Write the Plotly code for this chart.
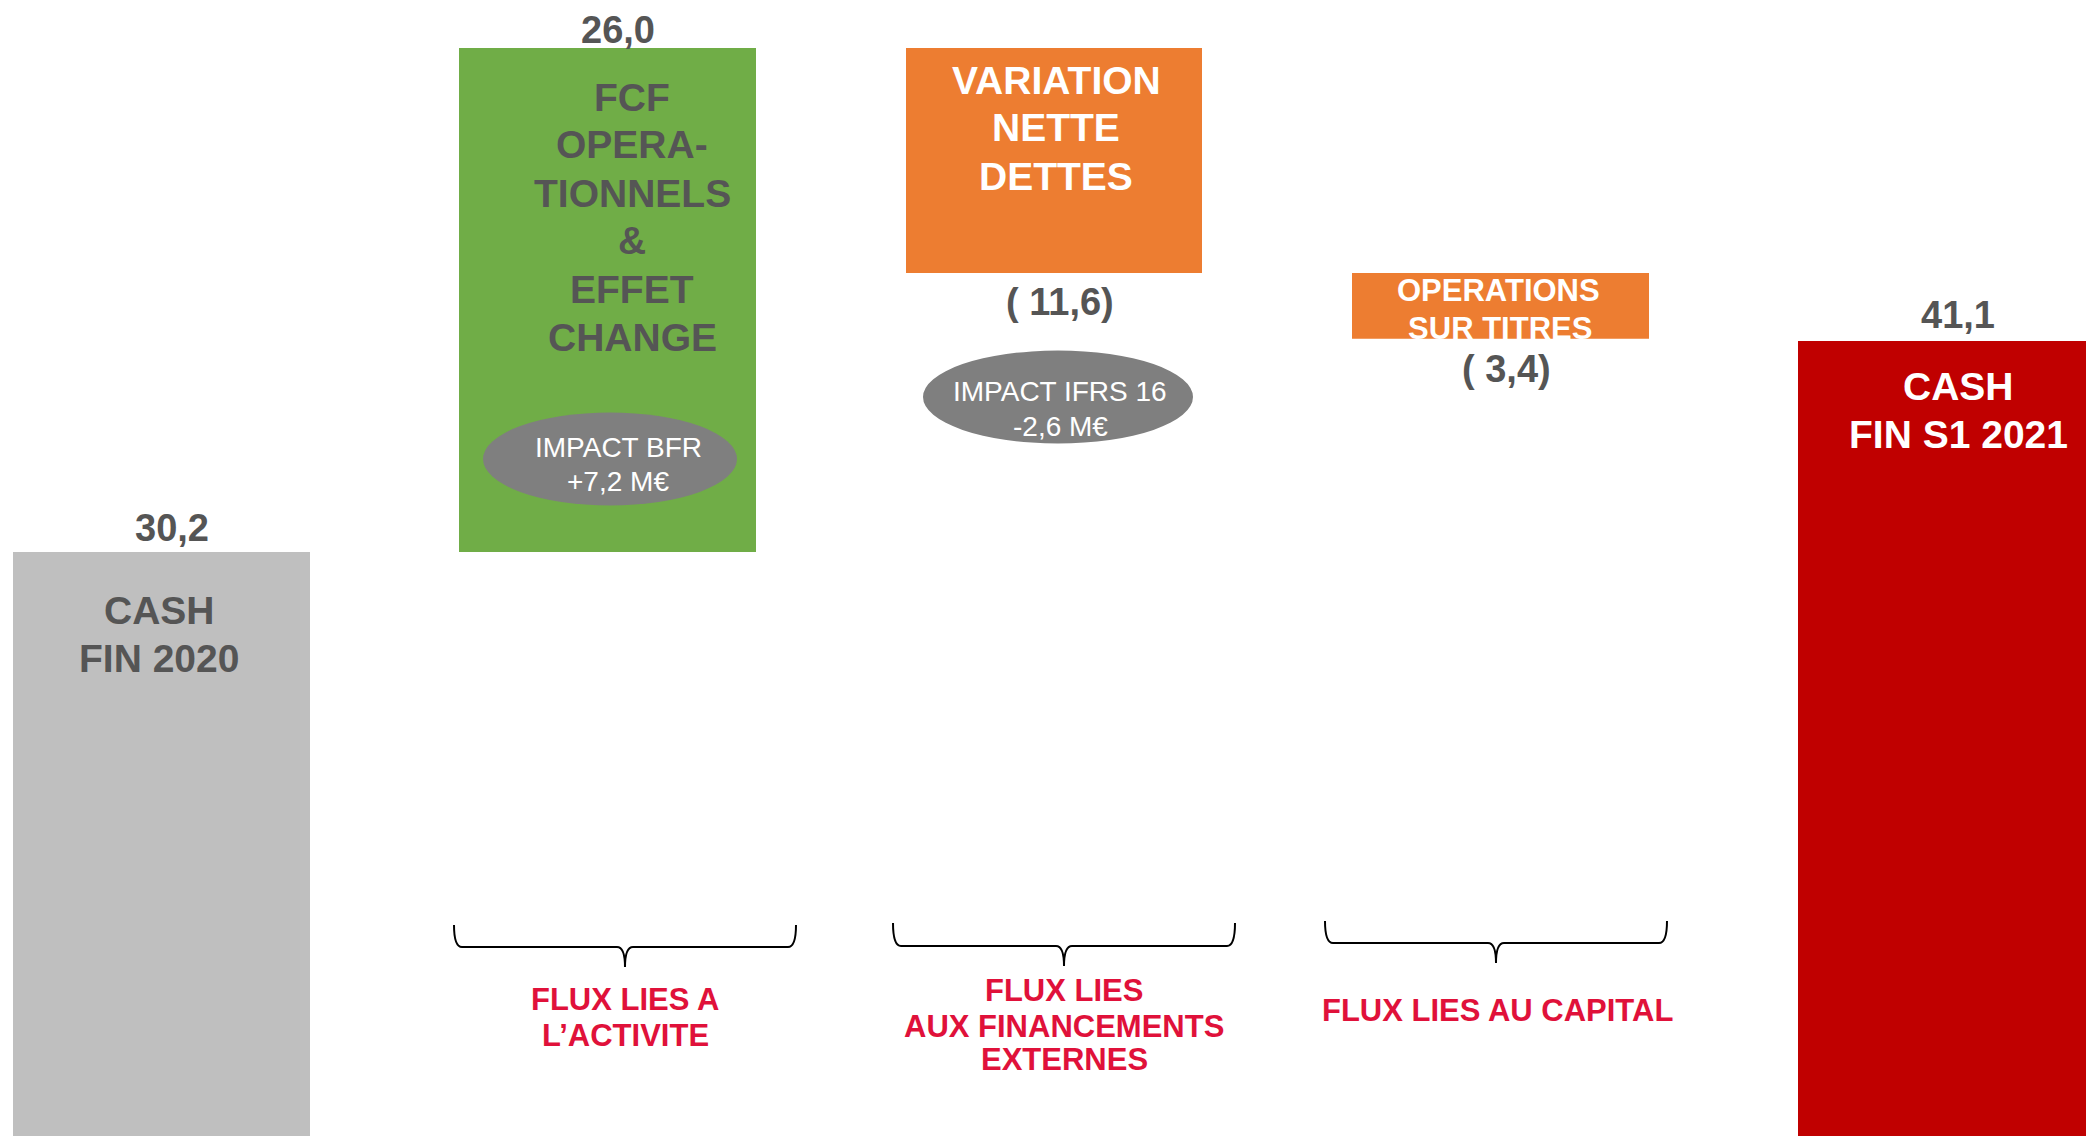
import plotly.graph_objects as go

# ---------------- data ----------------
categories = ["CASH FIN 2020", "FCF OPERATIONNELS & EFFET CHANGE",
              "VARIATION NETTE DETTES", "OPERATIONS SUR TITRES", "CASH FIN S1 2021"]
values = [30.2, 26.0, -11.6, -3.4, 41.1]
measures = ["absolute", "relative", "relative", "relative", "total"]
value_labels = ["30,2", "26,0", "( 11,6)", "( 3,4)", "41,1"]
bar_colors = ["#BFBFBF", "#70AD47", "#ED7D31", "#ED7D31", "#C00000"]

bar_lines = [["CASH", "FIN 2020"],
             ["FCF", "OPERA-", "TIONNELS", "&", "EFFET", "CHANGE"],
             ["VARIATION", "NETTE", "DETTES"],
             ["OPERATIONS", "SUR TITRES"],
             ["CASH", "FIN S1 2021"]]
impact_labels = [["IMPACT BFR", "+7,2 M€"], ["IMPACT IFRS 16", "-2,6 M€"]]
group_labels = [["FLUX LIES A", "L’ACTIVITE"],
                ["FLUX LIES", "AUX FINANCEMENTS", "EXTERNES"],
                ["FLUX LIES AU CAPITAL"]]

# ---------------- waterfall geometry from data ----------------
bases, heights = [], []
running = 0.0
for v, m in zip(values, measures):
    if m == "relative":
        bases.append(running)
        heights.append(v)
        running += v
    else:
        bases.append(0.0)
        heights.append(v)
        running = v

W, H = 2094, 1136
OFF = 8  # page body margin
X0, X1 = (OFF - 161.5) / 446.25, (W + OFF - 161.5) / 446.25
Y0, Y1 = (1137.4 - (H + OFF)) / 19.385, (1137.4 - OFF) / 19.385


def px(x):
    return (x - OFF) / W


def py(y):
    return 1 - (y - OFF) / H


def ydata(p):
    return (1137.4 - p) / 19.385


FONT = "Liberation Sans, Arial, sans-serif"
DARK = "#555555"
RED = "#E0113A"

fig = go.Figure()
fig.add_trace(go.Bar(
    x=list(range(len(values))), y=heights, base=bases,
    width=0.6655, marker=dict(color=bar_colors, line=dict(width=0)),
    hovertext=categories, showlegend=False,
))

ann = []


def text(x, y, s, size, color, bold=True):
    ann.append(dict(xref="paper", yref="paper", x=px(x), y=py(y), text=(f"<b>{s}</b>" if bold else s),
                    showarrow=False, xanchor="center", yanchor="middle",
                    font=dict(family=FONT, size=size, color=color)))


# value labels
val_pos = [(172, 528), (618, 30), (1060, 302), (1506, 369), (1958, 315)]
for (x, y), s in zip(val_pos, value_labels):
    text(x, y, s, 38, DARK)

# bar interior labels
line_pos = [(159, [610, 658], 39, DARK),
            (632, [97, 145, 193, 241, 289, 337], 39, DARK),
            (1056, [80, 128, 176], 39, "white"),
            (1498, [291, None], 31, "white"),
            (1958, [386, 434], 39, "white")]
for lines, (x, ys, size, col) in zip(bar_lines, line_pos):
    for s, y in zip(lines, ys):
        if y is not None:
            text(x, y, s, size, col)

# clipped second line of the small orange bar (drawn as trace, masked by a shape)
fig.add_trace(go.Scatter(
    x=[3], y=[ydata(331)], mode="text", text=["<b>" + bar_lines[3][1] + "</b>"],
    textfont=dict(family=FONT, size=31, color="white"), textposition="middle center",
    showlegend=False, hoverinfo="skip", cliponaxis=False))

shapes = []
bottom3 = bases[3] + heights[3]
shapes.append(dict(type="rect", xref="x", yref="y", x0=3 - 0.34, x1=3 + 0.34,
                   y0=bottom3 - 0.6, y1=bottom3, fillcolor="white", line=dict(width=0), layer="above"))

# ellipses
ell = [(610, 459, 254, 93), (1058, 397, 270, 93)]
for cx, cy, w, h in ell:
    shapes.append(dict(type="circle", xref="paper", yref="paper",
                       x0=px(cx - w / 2), x1=px(cx + w / 2), y0=py(cy + h / 2), y1=py(cy - h / 2),
                       fillcolor="#7F7F7F", line=dict(width=0), layer="above"))
imp_pos = [(618, [447, 481]), (1060, [391, 426])]
for lines, (x, ys) in zip(impact_labels, imp_pos):
    for s, y in zip(lines, ys):
        text(x, y, s, 28, "white", bold=False)

# braces
braces = [(454, 796, 625, 925, 947, 967),
          (893, 1235, 1064, 923, 946, 966),
          (1325, 1667, 1496, 921, 943, 963)]
r = 8
for x0, x1, xc, yt, yl, yt2 in braces:
    def P(x, y):
        return f"{px(x):.5f},{py(y):.5f}"
    path = (f"M {P(x0, yt)} Q {P(x0, yl)} {P(x0 + r, yl)} L {P(xc - r, yl)} "
            f"Q {P(xc, yl)} {P(xc, yt2)} Q {P(xc, yl)} {P(xc + r, yl)} "
            f"L {P(x1 - r, yl)} Q {P(x1, yl)} {P(x1, yt)}")
    shapes.append(dict(type="path", xref="paper", yref="paper", path=path,
                       line=dict(color="black", width=2)))

# group labels
grp_pos = [(625, [1000, 1035]), (1064, [990, 1026, 1059]), (1497, [1010])]
for lines, (x, ys) in zip(group_labels, grp_pos):
    for s, y in zip(lines, ys):
        text(x, y, s, 31, RED)

fig.update_layout(
    width=W, height=H, margin=dict(l=0, r=0, t=0, b=0),
    paper_bgcolor="white", plot_bgcolor="white",
    xaxis=dict(range=[X0, X1], visible=False, fixedrange=True),
    yaxis=dict(range=[Y0, Y1], visible=False, fixedrange=True),
    annotations=ann, shapes=shapes, bargap=0,
)
fig.write_html("out.html")
